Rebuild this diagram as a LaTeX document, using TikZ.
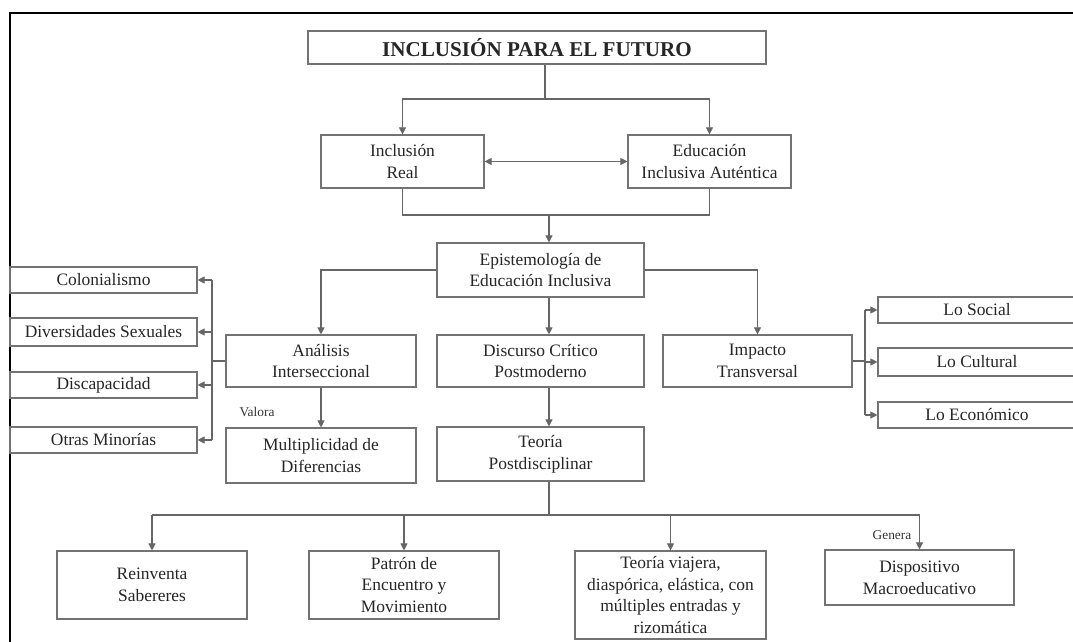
\documentclass[tikz,border=0pt]{standalone}
\usepackage{fontspec}
\setmainfont{Liberation Serif}
\usetikzlibrary{arrows.meta,calc}

\begin{document}
\begin{tikzpicture}[x=0.025cm,y=-0.025cm,
    box/.style={draw=black!55,line width=0.8pt,align=center,inner sep=0pt,
      text=black!85,font=\fontsize{12.4}{15.6}\selectfont},
    sz/.style 2 args={minimum width=#1*0.025cm,minimum height=#2*0.025cm},
    lin/.style={draw=black!60,line width=0.8pt},
    arr/.style={lin,-{Triangle[length=5pt,width=5pt]}},
    arr2/.style={lin,{Triangle[length=5pt,width=5pt]}-{Triangle[length=5pt,width=5pt]}},
    lbl/.style={text=black!80,font=\fontsize{9.5}{11}\selectfont}]
  \useasboundingbox[clip] (0,0) rectangle (1073,642);
  \fill[white] (0,0) rectangle (1073,642);
  \draw[line width=1.6pt] (10,700) -- (10,13) -- (1100,13);

  % top part
  \node[box,sz={458}{33},font=\fontsize{15}{18}\selectfont\bfseries] (title) at (537,47.5) {INCLUSIÓN PARA EL FUTURO};
  \node[box,sz={163}{53}] (real) at (402.5,161.5) {Inclusión\\Real};
  \node[box,sz={163}{53}] (auth) at (709.5,161.5) {Educación\\Inclusiva Auténtica};
  \node[box,sz={207}{54}] (epis) at (540.5,270) {Epistemología de\\Educación Inclusiva};

  % middle row
  \node[box,sz={190}{52}] (anal) at (321,361) {Análisis\\Interseccional};
  \node[box,sz={207}{52}] (disc) at (540.5,361) {Discurso Crítico\\Postmoderno};
  \node[box,sz={189}{52}] (impa) at (757.5,361) {Impacto\\Transversal};
  \node[box,sz={190}{55}] (mult) at (321,455.5) {Multiplicidad de\\Diferencias};
  \node[box,sz={207}{54}] (post) at (540.5,454) {Teoría\\Postdisciplinar};
  \node[lbl] (valora) at (257,412) {Valora};

  % left and right lists
  \node[box,sz={187}{26}] (colo) at (103.5,280) {Colonialismo};
  \node[box,sz={187}{28}] (sexu) at (103.5,332) {Diversidades Sexuales};
  \node[box,sz={187}{26}] (capa) at (103.5,385) {Discapacidad};
  \node[box,sz={187}{26}] (mino) at (103.5,440) {Otras Minorías};
  \node[box,sz={198}{26}] (soci) at (977,310) {Lo Social};
  \node[box,sz={198}{28}] (cult) at (977,362) {Lo Cultural};
  \node[box,sz={198}{26}] (econ) at (977,415) {Lo Económico};

  % bottom row
  \node[box,sz={190}{68}] (rein) at (152,585) {Reinventa\\Sabereres};
  \node[box,sz={190}{68}] (patr) at (404,585) {Patrón de\\Encuentro y\\Movimiento};
  \node[box,sz={191}{88}] (viaj) at (670.5,595) {Teoría viajera,\\diaspórica, elástica, con\\múltiples entradas y\\rizomática};
  \node[box,sz={189}{55}] (disp) at (919.5,577.5) {Dispositivo\\Macroeducativo};
  \node[lbl] (genera) at (892,535) {Genera};

  % connectors
  \coordinate (t1) at (545,99);
  \coordinate (m1) at (549,215);
  \coordinate (m2) at (549,515);
  \coordinate (lv) at (212,361);
  \coordinate (rv) at (865,361);
  \draw[lin] (title.south -| t1) -- (t1);
  \draw[arr] (t1) -| (real.north);
  \draw[arr] (t1) -| (auth.north);
  \draw[arr2] (real.east) -- (auth.west);
  \draw[lin] (real.south) |- (m1) -| (auth.south);
  \draw[arr] (m1) -- (m1 |- epis.north);
  \draw[arr] (epis.west) -| (anal.north);
  \draw[arr] (epis.east) -| (impa.north);
  \draw[arr] (epis.south -| m1) -- (disc.north -| m1);
  \draw[arr] (anal.south) -- (mult.north);
  \draw[arr] (disc.south -| m1) -- (post.north -| m1);
  \draw[lin] (anal.west) -- (lv);
  \draw[lin] (lv |- colo.east) -- (lv |- mino.east);
  \foreach \n in {colo,sexu,capa,mino}
    \draw[arr] (lv |- \n.east) -- (\n.east);
  \draw[lin] (impa.east) -- (rv);
  \draw[lin] (rv |- soci.west) -- (rv |- econ.west);
  \foreach \n in {soci,cult,econ}
    \draw[arr] (rv |- \n.west) -- (\n.west);
  \draw[lin] (post.south -| m2) -- (m2);
  \draw[lin] (rein.north |- m2) -- (disp.north |- m2);
  \foreach \n in {rein,patr,viaj,disp}
    \draw[arr] (\n.north |- m2) -- (\n.north);
\end{tikzpicture}
\end{document}
